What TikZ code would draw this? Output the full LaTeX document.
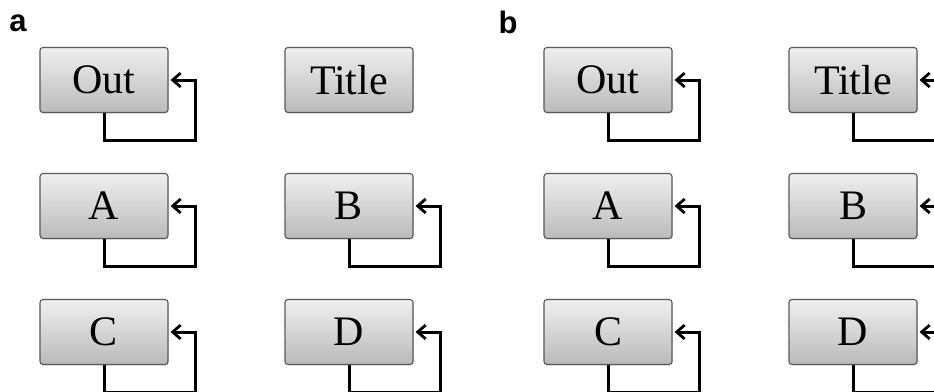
\documentclass[tikz,border=0pt]{standalone}
\usepackage{fontspec}
\setmainfont{Liberation Serif}
\newfontfamily\labelfont{Liberation Sans}
\usetikzlibrary{arrows.meta,shadows}
\tikzset{
  blk/.style={draw=black!65, line width=1.1pt, rounded corners=3pt,
    top color=black!6, bottom color=black!27,
    minimum width=128pt, minimum height=65pt, inner sep=0pt,
    font=\fontsize{42}{42}\selectfont,
    drop shadow={opacity=0.2, shadow xshift=0.8pt, shadow yshift=-1.2pt}},
  fb/.style={line width=3pt, line join=miter,
    -{Straight Barb[length=8pt,width=14pt,line width=2.8pt]}, shorten >=2pt},
  panel/.style={font=\labelfont\bfseries\fontsize{31}{31}\selectfont, inner sep=0pt}
}
\begin{document}
\begin{tikzpicture}[x=1pt,y=-1pt]
\useasboundingbox (0,0) rectangle (934,391);
\clip (0,0) rectangle (934,391);
\fill[white] (0,0) rectangle (934,391);
\node[panel] (la) at (18,23) {a};
\node[panel] (lb) at (508,22) {b};
% panel a
\node[blk] (aout) at (104,80) {Out};
\node[blk] (atitle) at (349,80) {Title};
\node[blk] (aA) at (104,206) {A};
\node[blk] (aB) at (349,206) {B};
\node[blk] (aC) at (104,332) {C};
\node[blk] (aD) at (349,332) {D};
% panel b
\node[blk] (bout) at (608,80) {Out};
\node[blk] (btitle) at (853,80) {Title};
\node[blk] (bA) at (608,206) {A};
\node[blk] (bB) at (853,206) {B};
\node[blk] (bC) at (608,332) {C};
\node[blk] (bD) at (853,332) {D};
\foreach \n in {aout,aA,aB,aC,aD,bout,btitle,bA,bB,bC,bD}{
  \draw[fb] (\n.south) |- ([xshift=27pt,yshift=-27pt]\n.south east) |- (\n.east);
}
\end{tikzpicture}
\end{document}
